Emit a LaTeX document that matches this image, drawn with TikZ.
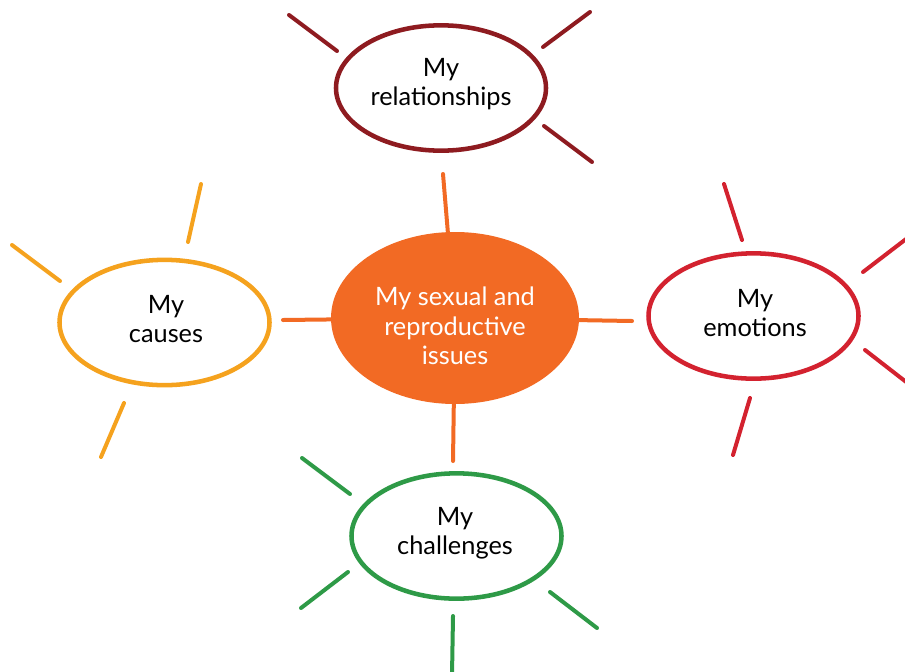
\documentclass[tikz,border=0pt]{standalone}
\usepackage{fontspec}
\setmainfont{Lato}
\usetikzlibrary{shapes.geometric}
\definecolor{corange}{HTML}{F26A24}
\definecolor{crel}{HTML}{8E1B20}
\definecolor{cemo}{HTML}{D3222F}
\definecolor{ccau}{HTML}{F5A21E}
\definecolor{ccha}{HTML}{2E9A47}
\tikzset{
  bubble/.style={ellipse, draw=#1, line width=3.4pt, fill=white, inner sep=0pt,
    minimum width=157.5pt, minimum height=94pt},
  hub/.style={ellipse, fill=corange, inner sep=0pt, minimum width=186pt, minimum height=129pt},
  lbl/.style={align=center, inner sep=0pt, text=#1, font=\fontsize{19}{22}\selectfont},
  link/.style={draw=corange, line width=3pt, line cap=round},
  ray/.style={draw=#1, line width=3pt, line cap=round}
}
\begin{document}
\begin{tikzpicture}[x=0.75pt,y=-0.75pt]
\useasboundingbox (0,0) rectangle (905,671);
\node[hub] (c) at (455,318) {};
\node[lbl=white] (ct) at (455,326) {My sexual and\\reproductive\\issues};
\node[bubble=crel] (rel) at (441,88) {};
\node[lbl=black] (relt) at (441,84) {My\\relationships};
\node[bubble=cemo] (emo) at (753.5,316) {};
\node[lbl=black] (emot) at (755,313) {My\\emotions};
\node[bubble=ccau] (cau) at (164.5,322.5) {};
\node[lbl=black] (caut) at (166,319) {My\\causes};
\node[bubble=ccha] (cha) at (456.5,536) {};
\node[lbl=black] (chat) at (455,533) {My\\challenges};
% connectors from the hub towards each bubble (free ends)
\coordinate (cnt) at (443,174);
\coordinate (cnr) at (632,321);
\coordinate (cnl) at (283,320);
\coordinate (cnb) at (453,461);
\draw[link] (c) -- (cnt);
\draw[link] (c) -- (cnr);
\draw[link] (c) -- (cnl);
\draw[link] (c) -- (cnb);
% rays relationships
\coordinate (r1a) at (289,15); \coordinate (r1b) at (337,51);
\coordinate (r2a) at (543,47); \coordinate (r2b) at (590,12);
\coordinate (r3a) at (544,126); \coordinate (r3b) at (592,162);
\draw[ray=crel] (r1a) -- (r1b);
\draw[ray=crel] (r2a) -- (r2b);
\draw[ray=crel] (r3a) -- (r3b);
% rays emotions
\coordinate (e1a) at (724,184); \coordinate (e1b) at (742,240);
\coordinate (e2a) at (863,272); \coordinate (e2b) at (910,236);
\coordinate (e3a) at (865,350); \coordinate (e3b) at (910,385);
\coordinate (e4a) at (750,398); \coordinate (e4b) at (733,455);
\draw[ray=cemo] (e1a) -- (e1b);
\draw[ray=cemo] (e2a) -- (e2b);
\draw[ray=cemo] (e3a) -- (e3b);
\draw[ray=cemo] (e4a) -- (e4b);
% rays causes
\coordinate (a1a) at (201,184); \coordinate (a1b) at (188,242);
\coordinate (a2a) at (12,245); \coordinate (a2b) at (60,281);
\coordinate (a3a) at (124,403); \coordinate (a3b) at (101,457);
\draw[ray=ccau] (a1a) -- (a1b);
\draw[ray=ccau] (a2a) -- (a2b);
\draw[ray=ccau] (a3a) -- (a3b);
% rays challenges
\coordinate (h1a) at (302,458); \coordinate (h1b) at (350,494);
\coordinate (h2a) at (348,572); \coordinate (h2b) at (301,608);
\coordinate (h3a) at (550,592); \coordinate (h3b) at (597,628);
\coordinate (h4a) at (453,616); \coordinate (h4b) at (452,675);
\draw[ray=ccha] (h1a) -- (h1b);
\draw[ray=ccha] (h2a) -- (h2b);
\draw[ray=ccha] (h3a) -- (h3b);
\draw[ray=ccha] (h4a) -- (h4b);
\end{tikzpicture}
\end{document}
